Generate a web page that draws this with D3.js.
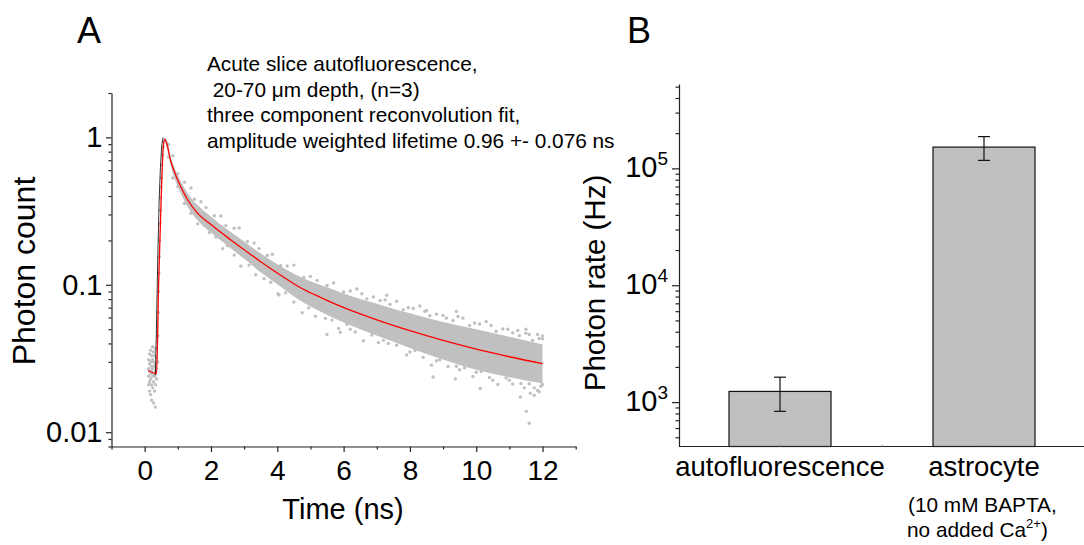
<!DOCTYPE html>
<html>
<head>
<meta charset="utf-8">
<script src="https://cdn.jsdelivr.net/npm/d3@7"></script>
<style>
  html, body { margin: 0; padding: 0; background: #fff; }
  svg { display: block; font-family: "Liberation Sans", Arial, sans-serif; }
</style>
</head>
<body>
<svg id="chart" width="1084" height="545"></svg>
<script>
// ---------------- DATA ----------------
// Panel A: fit curve (red)
const fitT = [0.10, 0.36, 0.42, 0.50, 0.56, 0.60, 0.66, 0.78, 0.90, 1.08, 1.30, 1.58, 2.00, 2.58, 3.00, 3.50, 4.00, 4.70, 5.30, 5.90, 6.50, 7.20, 8.00, 9.00, 10.0, 11.0, 12.0];
const fitV = [0.0262, 0.0250, 0.100, 0.40, 0.85, 0.97, 0.92, 0.70, 0.582, 0.468, 0.376, 0.309, 0.256, 0.203, 0.173, 0.1435, 0.1202, 0.0955, 0.0822, 0.0716, 0.0635, 0.0558, 0.0488, 0.0419, 0.0366, 0.0325, 0.0292];
// Panel A: raw data connecting line visible on the rise (black)
const riseT = [0.35, 0.37, 0.40, 0.44, 0.48, 0.52, 0.56, 0.60];
const riseV = [0.0245, 0.0245, 0.05, 0.15, 0.36, 0.62, 0.88, 1.0];
// Panel A: dense core of the data cloud (upper / lower envelope)
const bandT  = [0.60, 0.66, 0.78, 0.90, 1.10, 1.30, 1.58, 2.00, 2.58, 3.00, 3.50, 4.00, 4.70, 5.30, 5.90, 6.50, 7.20, 8.00, 9.00, 10.0, 11.0, 12.0];
const bandHi = [1.00, 0.975, 0.75, 0.624, 0.498, 0.417, 0.350, 0.290, 0.230, 0.197, 0.163, 0.138, 0.1130, 0.0995, 0.0891, 0.0800, 0.0722, 0.0640, 0.0560, 0.0500, 0.0445, 0.0394];
const bandLo = [0.925, 0.867, 0.65, 0.528, 0.412, 0.337, 0.276, 0.226, 0.178, 0.150, 0.1216, 0.1010, 0.0780, 0.0660, 0.0569, 0.0500, 0.0435, 0.0372, 0.0311, 0.0265, 0.0236, 0.0214];
// Panel A: individual data points (pre-pulse cluster, rise, cloud edges, outliers)
const pointT = [
  0.12,0.12,0.12,0.12,0.15,0.15,0.15,0.15,0.15,0.18,0.18,0.18,0.18,0.18,0.21,0.21,0.21,0.21,0.21,0.24,0.24,0.24,0.24,0.24,
  0.27,0.27,0.27,0.27,0.27,0.30,0.30,0.30,0.30,0.33,0.33,0.33,0.33,0.32,0.36,0.36,0.36,
  0.39,0.40,0.41,0.42,0.43,0.44,0.45,0.46,0.47,0.48,0.49,0.50,0.52,0.54,0.56,0.58,
  // upper edge
  0.72,0.85,1.0,1.2,1.4,1.5,1.7,1.85,2.1,2.3,2.45,2.7,2.85,3.1,3.3,3.45,3.7,3.85,4.1,4.3,4.5,4.8,5.0,5.2,5.5,5.7,
  6.0,6.2,6.4,6.7,6.9,7.1,7.4,7.6,7.8,8.1,8.3,8.6,8.8,9.1,9.3,9.6,9.8,10.1,10.3,10.6,10.8,11.1,11.3,11.5,11.7,11.9,12.0,
  6.55,7.25,7.95,8.45,9.0,9.45,9.95,10.45,10.95,11.25,11.6,11.85,12.0,
  // lower edge
  0.72,0.85,1.0,1.2,1.4,1.6,1.8,1.95,2.15,2.35,2.5,2.7,2.9,3.15,3.35,3.6,3.8,4.05,4.25,4.5,4.75,4.95,5.15,5.45,5.65,5.85,
  6.1,6.35,6.6,6.85,7.05,7.35,7.6,7.9,8.15,8.4,8.65,8.9,9.15,9.4,9.65,9.9,10.15,10.4,10.65,10.9,11.1,11.35,11.6,11.85,12.0,
  6.2,7.2,8.0,8.8,9.5,10.0,10.5,11.0,11.45,11.75,11.95,
  // outliers
  8.5,11.5,7.3,9.4,4.02,5.5,5.9,8.7,9.37,10.12,11.33,11.51,11.6,11.63,11.75,11.9
];
const pointV = [
  0.031,0.027,0.024,0.021,0.034,0.029,0.026,0.022,0.019,0.036,0.030,0.025,0.023,0.018,0.033,0.028,0.026,0.021,0.0165,0.038,0.031,0.027,0.024,0.020,
  0.035,0.030,0.025,0.022,0.0158,0.033,0.028,0.024,0.019,0.037,0.029,0.026,0.021,0.0148,0.032,0.027,0.023,
  0.030,0.045,0.065,0.090,0.120,0.155,0.200,0.260,0.320,0.390,0.460,0.530,0.650,0.760,0.860,0.940,
  0.894,0.75,0.566,0.497,0.454,0.381,0.366,0.334,0.294,0.293,0.252,0.242,0.243,0.197,0.192,0.176,0.158,0.161,0.135,0.134,0.136,0.112,0.114,0.107,0.099,0.103,
  0.0893,0.0907,0.0937,0.0803,0.0828,0.0784,0.0738,0.0773,0.0678,0.0691,0.0719,0.0618,0.0632,0.0594,0.0572,0.0594,0.0530,0.0542,0.0564,0.0484,0.0501,0.0472,0.0452,0.047,0.042,0.0432,0.043,
  0.087,0.079,0.070,0.066,0.062,0.061,0.055,0.053,0.050,0.049,0.046,0.046,0.045,
  0.737,0.53,0.465,0.356,0.306,0.259,0.253,0.226,0.211,0.176,0.184,0.159,0.134,0.136,0.117,0.110,0.104,0.0854,0.0882,0.0764,0.0646,0.0698,0.0612,0.0592,0.0576,0.0506,
  0.0539,0.0478,0.0417,0.0456,0.0405,0.0400,0.0389,0.0334,0.0358,0.0322,0.0285,0.0310,0.0279,0.0280,0.0274,0.0239,0.0258,0.0235,0.0211,0.0233,0.0212,0.0214,0.0213,0.0192,0.0211,
  0.050,0.042,0.035,0.0305,0.0265,0.0255,0.0225,0.0225,0.020,0.020,0.0205,
  0.067,0.050,0.085,0.066,0.087,0.046,0.0477,0.0237,0.023,0.0198,0.0173,0.0139,0.0115,0.0184,0.0178,0.0188
];
const xTicksA = [0, 2, 4, 6, 8, 10, 12];
const yTicksA = [0.01, 0.1, 1];
const yTickLabelsA = ["0.01", "0.1", "1"];

// Panel B: bar chart
const categories = ["autofluorescence", "astrocyte"];
const rates = [1234, 152000];
const rateErr = [400, 35000];
const yTicksB = [1e3, 1e4, 1e5];
const yTickExpB = ["3", "4", "5"];

// ---------------- DRAW ----------------
const svg = d3.select("#chart");
const axisColor = "#222";
const gray = "#c0c0c0";
const FONT = "Liberation Sans, Arial, sans-serif";

// ===== Panel A =====
const xA = d3.scaleLinear().domain([-1, 13]).range([111.5, 575.7]);
const yA = d3.scaleLog().domain([0.008, 2]).range([446.5, 93]);

const band = bandT.map((t, i) => ({t, hi: bandHi[i], lo: bandLo[i]}));
svg.append("path")
  .datum(band)
  .attr("fill", gray)
  .attr("d", d3.area().curve(d3.curveMonotoneX)
    .x(d => xA(d.t)).y0(d => yA(d.lo)).y1(d => yA(d.hi)));

svg.append("g").selectAll("circle")
  .data(pointT.map((t, i) => ({t, v: pointV[i]})))
  .join("circle")
  .attr("cx", d => xA(d.t)).attr("cy", d => yA(d.v))
  .attr("r", 1.7).attr("fill", gray);

svg.append("path")
  .datum(riseT.map((t, i) => ({t, v: riseV[i]})))
  .attr("fill", "none").attr("stroke", "#000").attr("stroke-width", 0.8)
  .attr("d", d3.line().x(d => xA(d.t) - 1.5).y(d => yA(d.v)));

svg.append("path")
  .datum(fitT.map((t, i) => ({t, v: fitV[i]})))
  .attr("fill", "none").attr("stroke", "#ff0000").attr("stroke-width", 1.3)
  .attr("d", d3.line().curve(d3.curveMonotoneX).x(d => xA(d.t)).y(d => yA(d.v)));

// axes A
const minorXA = d3.range(-1, 14, 2);
const gxA = svg.append("g").attr("transform", "translate(0,446.5)");
gxA.call(d3.axisBottom(xA).tickValues(minorXA).tickSize(3).tickSizeOuter(0).tickFormat(""));
gxA.append("g").call(d3.axisBottom(xA).tickValues(xTicksA).tickSize(5.5).tickSizeOuter(0).tickFormat(d3.format("d")))
   .call(g => g.select(".domain").remove());
gxA.selectAll("path,line").attr("stroke", axisColor).attr("stroke-width", 1.2);
gxA.selectAll("text").attr("font-size", 28).attr("fill", "#000").attr("font-family", FONT).attr("dy", 24.5);

const minorYA = [];
[0.001, 0.01, 0.1, 1].forEach(dec => { for (let k = 2; k <= 9; k++) { const v = dec * k; if (v >= 0.008 && v <= 2.0001) minorYA.push(v); } });
const gyA = svg.append("g").attr("transform", "translate(111.5,0)");
gyA.call(d3.axisLeft(yA).tickValues(minorYA).tickSize(3).tickSizeOuter(0).tickFormat(""));
gyA.append("g").call(d3.axisLeft(yA).tickValues(yTicksA).tickSize(5.5).tickSizeOuter(0).tickFormat((d, i) => yTickLabelsA[i]))
   .call(g => g.select(".domain").remove());
gyA.selectAll("path,line").attr("stroke", axisColor).attr("stroke-width", 1.2);
gyA.selectAll("text").attr("font-size", 29).attr("fill", "#000").attr("font-family", FONT).attr("x", -9);

svg.append("text").attr("x", 343).attr("y", 519).attr("text-anchor", "middle")
  .attr("font-size", 29).text("Time (ns)");
svg.append("text").attr("transform", "translate(35,271) rotate(-90)").attr("text-anchor", "middle")
  .attr("font-size", 32).text("Photon count");

svg.append("text").attr("x", 77).attr("y", 43).attr("font-size", 36).text("A");

const notes = ["Acute slice autofluorescence,", " 20-70 \u03bcm depth, (n=3)", "three component reconvolution fit,", "amplitude weighted lifetime 0.96 +- 0.076 ns"];
svg.append("g").selectAll("text").data(notes).join("text")
  .attr("x", 207).attr("y", (d, i) => 71 + i * 25.5)
  .attr("font-size", 20.8).style("white-space", "pre").attr("xml:space", "preserve")
  .text(d => d);

// ===== Panel B =====
const xB = d3.scaleBand().domain(categories).range([678, 1086]).paddingInner(0.5).paddingOuter(0.25);
const yB = d3.scaleLog().domain([417, 5.27e5]).range([446.5, 84]);

svg.append("g").selectAll("rect")
  .data(categories.map((c, i) => ({c, v: rates[i], e: rateErr[i]})))
  .join("rect")
  .attr("x", d => xB(d.c)).attr("width", xB.bandwidth())
  .attr("y", d => yB(d.v)).attr("height", d => yB(417) - yB(d.v))
  .attr("fill", gray).attr("stroke", "#111").attr("stroke-width", 1.2);

const eb = svg.append("g").attr("stroke", "#111").attr("stroke-width", 1.2);
categories.forEach((c, i) => {
  const cx = xB(c) + xB.bandwidth() / 2;
  const y1 = yB(rates[i] + rateErr[i]), y0 = yB(rates[i] - rateErr[i]);
  eb.append("line").attr("x1", cx).attr("x2", cx).attr("y1", y1).attr("y2", y0);
  eb.append("line").attr("x1", cx - 6).attr("x2", cx + 6).attr("y1", y1).attr("y2", y1);
  eb.append("line").attr("x1", cx - 6).attr("x2", cx + 6).attr("y1", y0).attr("y2", y0);
});

const minorYB = [];
[100, 1e3, 1e4, 1e5].forEach(dec => { for (let k = 2; k <= 9; k++) { const v = dec * k; if (v >= 417 && v <= 5.27e5) minorYB.push(v); } });
const gyB = svg.append("g").attr("transform", "translate(679,0)");
gyB.call(d3.axisLeft(yB).tickValues(minorYB).tickSize(3.5).tickSizeOuter(0).tickFormat(""));
gyB.append("g").call(d3.axisLeft(yB).tickValues(yTicksB).tickSize(7).tickSizeOuter(0).tickFormat(""))
   .call(g => g.select(".domain").remove());
gyB.selectAll("path,line").attr("stroke", axisColor).attr("stroke-width", 1.2);

yTicksB.forEach((v, i) => {
  const t = svg.append("text").attr("x", 668).attr("y", yB(v) + 9).attr("text-anchor", "end").attr("font-size", 29);
  t.append("tspan").text("10");
  t.append("tspan").attr("font-size", 19).attr("dy", -12).text(yTickExpB[i]);
});

svg.append("line").attr("x1", 679).attr("x2", 1084).attr("y1", 446.5).attr("y2", 446.5)
  .attr("stroke", axisColor).attr("stroke-width", 1.2);
const bTicks = [xB(categories[0]) + xB.bandwidth() / 2, (xB(categories[0]) + xB.bandwidth() + xB(categories[1])) / 2, xB(categories[1]) + xB.bandwidth() / 2];
svg.append("g").selectAll("line").data(bTicks).join("line")
  .attr("x1", d => d).attr("x2", d => d).attr("y1", 446.5).attr("y2", 444.5)
  .attr("stroke", "#999").attr("stroke-width", 1);

svg.append("g").selectAll("text").data(categories).join("text")
  .attr("x", d => xB(d) + xB.bandwidth() / 2).attr("y", 476).attr("text-anchor", "middle")
  .attr("font-size", 27.5).text(d => d);

svg.append("text").attr("x", 908).attr("y", 512).attr("font-size", 20.8).text("(10 mM BAPTA,");
const ca = svg.append("text").attr("x", 907).attr("y", 537).attr("font-size", 20.8);
ca.append("tspan").text("no added Ca");
ca.append("tspan").attr("font-size", 13).attr("dy", -9).text("2+");
ca.append("tspan").attr("dy", 9).text(")");

svg.append("text").attr("transform", "translate(605,283) rotate(-90)").attr("text-anchor", "middle")
  .attr("font-size", 29.5).text("Photon rate (Hz)");

svg.append("text").attr("x", 627).attr("y", 43).attr("font-size", 36).text("B");
</script>
</body>
</html>
